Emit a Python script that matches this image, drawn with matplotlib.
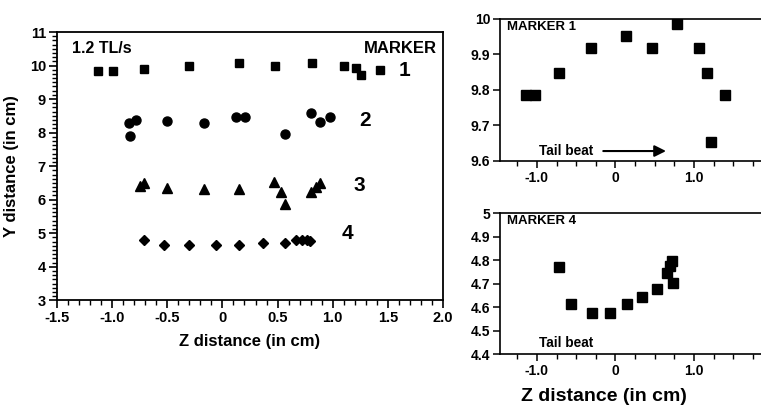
import matplotlib
matplotlib.use("Agg")
import matplotlib.pyplot as plt
from matplotlib.ticker import MultipleLocator

plt.rcParams['font.family'] = ['Liberation Sans', 'DejaVu Sans']
plt.rcParams['font.weight'] = 'bold'

# ---- main panel data (Z, Y in cm) ----
m1_z = [-1.13, -0.99, -0.715, -0.306, 0.152, 0.473, 0.809, 1.106, 1.215, 1.261, 1.43]
m1_y = [9.85, 9.85, 9.89, 10.0, 10.07, 10.0, 10.07, 10.0, 9.92, 9.72, 9.86]
m2_z = [-0.843, -0.785, -0.836, -0.503, -0.164, 0.121, 0.203, 0.567, 0.803, 0.882, 0.973]
m2_y = [8.30, 8.38, 7.90, 8.36, 8.30, 8.46, 8.46, 7.96, 8.58, 8.32, 8.46]
m3_z = [-0.745, -0.709, -0.503, -0.17, 0.152, 0.466, 0.527, 0.564, 0.800, 0.845, 0.885]
m3_y = [6.41, 6.49, 6.36, 6.31, 6.31, 6.54, 6.24, 5.87, 6.24, 6.39, 6.49]
m4_z = [-0.715, -0.534, -0.303, -0.057, 0.152, 0.367, 0.564, 0.67, 0.72, 0.77, 0.79]
m4_y = [4.80, 4.65, 4.65, 4.65, 4.65, 4.72, 4.72, 4.79, 4.80, 4.80, 4.76]
marker_labels = ["1", "2", "3", "4"]
main_xticks = [-1.5, -1.0, -0.5, 0, 0.5, 1.0, 1.5, 2.0]
main_xticklabels = ["-1.5", "-1.0", "-0.5", "0", "0.5", "1.0", "1.5", "2.0"]

# ---- inset: marker 1 ----
i1_z = [-1.14, -1.02, -0.715, -0.31, 0.14, 0.46, 0.78, 1.06, 1.165, 1.22, 1.39]
i1_y = [9.785, 9.785, 9.847, 9.917, 9.952, 9.917, 9.985, 9.917, 9.847, 9.654, 9.785]
i1_yticks = [9.6, 9.7, 9.8, 9.9, 10.0]
i1_yticklabels = ["9.6", "9.7", "9.8", "9.9", "10"]
# ---- inset: marker 4 ----
i4_z = [-0.715, -0.562, -0.298, -0.064, 0.149, 0.34, 0.532, 0.651, 0.694, 0.723, 0.732]
i4_y = [4.77, 4.613, 4.573, 4.573, 4.613, 4.642, 4.676, 4.744, 4.775, 4.798, 4.704]
i4_yticks = [4.4, 4.5, 4.6, 4.7, 4.8, 4.9, 5.0]
i4_yticklabels = ["4.4", "4.5", "4.6", "4.7", "4.8", "4.9", "5"]
inset_xticks = [-1.0, 0, 1.0]
inset_xticklabels = ["-1.0", "0", "1.0"]

W, H = 761, 407
fig = plt.figure(figsize=(W / 100, H / 100), dpi=100)

# ---------------- main axes ----------------
ax = fig.add_axes([57 / W, 1 - 300.3 / H, 386 / W, 268.3 / H])
ax.plot(m1_z, m1_y, 's', color='black', ms=6.2)
ax.plot(m2_z, m2_y, 'o', color='black', ms=6.5)
ax.plot(m3_z, m3_y, '^', color='black', ms=7)
ax.plot(m4_z, m4_y, 'D', color='black', ms=5)
ax.set_xlim(-1.5, 2.0)
ax.set_ylim(3, 11)
ax.set_xticks(main_xticks)
ax.set_xticklabels(main_xticklabels)
ax.xaxis.set_minor_locator(MultipleLocator(0.1))
ax.yaxis.set_major_locator(MultipleLocator(1))
ax.yaxis.set_minor_locator(MultipleLocator(0.125))
ax.tick_params(which='major', direction='out', length=6, width=1.2, labelsize=10.5, pad=2)
ax.tick_params(which='minor', direction='out', length=3.5, width=1.0)
for s in ax.spines.values():
    s.set_linewidth(1.3)
ax.set_xlabel("Z distance (in cm)", fontsize=12, fontweight='bold', labelpad=6)
ax.set_ylabel("Y distance (in cm)", fontsize=12, fontweight='bold', labelpad=8)
ax.text(0.04, 0.965, "1.2 TL/s", transform=ax.transAxes, fontsize=11.5,
        fontweight='bold', va='top', ha='left')
ax.text(0.985, 0.965, "MARKER", transform=ax.transAxes, fontsize=12,
        fontweight='bold', va='top', ha='right')
label_pos = [(1.65, 9.85), (1.29, 8.36), (1.24, 6.42), (1.13, 4.98)]
for lab, (lx, ly) in zip(marker_labels, label_pos):
    ax.text(lx, ly, lab, fontsize=15, fontweight='bold', ha='center', va='center')

# ---------------- inset marker 1 ----------------
a1 = fig.add_axes([500 / W, 1 - 161 / H, 272.4 / W, 142.3 / H])
a1.plot(i1_z, i1_y, 's', color='black', ms=6.8)
a1.set_xlim(-1.47, 2.0)
a1.set_ylim(9.6, 10.0)
a1.set_xticks(inset_xticks)
a1.set_xticklabels(inset_xticklabels)
a1.xaxis.set_minor_locator(MultipleLocator(0.25))
a1.set_yticks(i1_yticks)
a1.set_yticklabels(i1_yticklabels)
a1.text(0.025, 0.985, "MARKER 1", transform=a1.transAxes, fontsize=9.5,
        fontweight='bold', va='top', ha='left')
a1.text(-0.97, 9.628, "Tail beat", fontsize=9.8, fontweight='bold', va='center', ha='left')
a1.annotate("", xy=(0.68, 9.628), xytext=(-0.19, 9.628),
            arrowprops=dict(arrowstyle='-|>', color='black', lw=1.5, mutation_scale=17))

# ---------------- inset marker 4 ----------------
a4 = fig.add_axes([500 / W, 1 - 354 / H, 272.4 / W, 140.7 / H])
a4.plot(i4_z, i4_y, 's', color='black', ms=6.8)
a4.set_xlim(-1.47, 2.0)
a4.set_ylim(4.4, 5.0)
a4.set_xticks(inset_xticks)
a4.set_xticklabels(inset_xticklabels)
a4.xaxis.set_minor_locator(MultipleLocator(0.25))
a4.set_yticks(i4_yticks)
a4.set_yticklabels(i4_yticklabels)
a4.text(0.025, 0.985, "MARKER 4", transform=a4.transAxes, fontsize=9.5,
        fontweight='bold', va='top', ha='left')
a4.text(-0.97, 4.445, "Tail beat", fontsize=9.8, fontweight='bold', va='center', ha='left')
a4.set_xlabel("Z distance (in cm)", fontsize=14, fontweight='bold')
a4.xaxis.set_label_coords((604 - 500) / 272.4, -0.245)

for a in (a1, a4):
    a.spines['right'].set_visible(False)
    for s in ('left', 'top', 'bottom'):
        a.spines[s].set_linewidth(1.2)
    a.tick_params(which='major', direction='out', length=5, width=1.1, labelsize=10, pad=2)
    a.tick_params(which='minor', direction='out', length=3.5, width=1.0)
    a.tick_params(axis='y', which='minor', left=False)

fig.savefig("out.png", dpi=100)
